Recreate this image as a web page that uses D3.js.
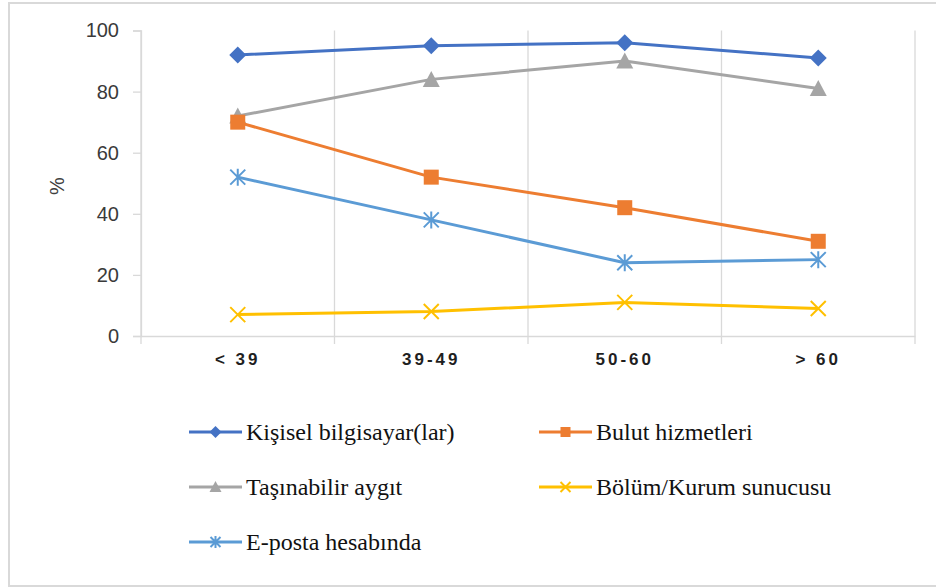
<!DOCTYPE html>
<html>
<head>
<meta charset="utf-8">
<script src="https://cdn.jsdelivr.net/npm/d3@7"></script>
<style>
  html, body { margin: 0; padding: 0; background: #fff; }
  svg { display: block; }
  .legend-label { font-family: "Liberation Serif", "Times New Roman", "DejaVu Serif", serif; font-size: 24px; }
</style>
</head>
<body>
<svg id="chart" width="936" height="588"></svg>
<script>
// Age groups along the x axis
const categories = ["< 39", "39-49", "50-60", "> 60"];

// Share (%) per age group for each storage location
const seriesNames = [
  "Kişisel bilgisayar(lar)",
  "Bulut hizmetleri",
  "Taşınabilir aygıt",
  "Bölüm/Kurum sunucusu",
  "E-posta hesabında"
];
const kisiselValues = [92, 95, 96, 91];
const bulutValues = [70, 52, 42, 31];
const tasinabilirValues = [72, 84, 90, 81];
const bolumValues = [7, 8, 11, 9];
const epostaValues = [52, 38, 24, 25];

const yTicks = [0, 20, 40, 60, 80, 100];

const colors = ["#4472C4", "#ED7D31", "#A5A5A5", "#FFC000", "#5B9BD5"];
const markers = ["diamond", "square", "triangle", "x", "asterisk"];

// Draw order: later series on top
const series = [
  { name: seriesNames[2], values: tasinabilirValues, color: colors[2], marker: markers[2] },
  { name: seriesNames[1], values: bulutValues, color: colors[1], marker: markers[1] },
  { name: seriesNames[0], values: kisiselValues, color: colors[0], marker: markers[0] },
  { name: seriesNames[4], values: epostaValues, color: colors[4], marker: markers[4] },
  { name: seriesNames[3], values: bolumValues, color: colors[3], marker: markers[3] }
];

const svg = d3.select("#chart");

// Chart frame
svg.append("rect")
  .attr("x", 9).attr("y", 3)
  .attr("width", 940).attr("height", 583)
  .attr("fill", "#fff")
  .attr("stroke", "#d9d9d9").attr("stroke-width", 2);

const plot = { left: 141, right: 915, top: 30.5, bottom: 336 };

const x = d3.scaleBand().domain(categories).range([plot.left, plot.right]).padding(0);
const y = d3.scaleLinear().domain([0, 100]).range([plot.bottom, plot.top]);

const gridColor = "#d9d9d9";

// Vertical gridlines at category boundaries (extend below the axis as tick marks)
const boundaries = categories.map(c => x(c)).concat([x.range()[1]]);
svg.append("g").selectAll("line").data(boundaries).join("line")
  .attr("x1", d => d).attr("x2", d => d)
  .attr("y1", plot.top).attr("y2", plot.bottom + 8)
  .attr("stroke", gridColor).attr("stroke-width", 1.3);

// Y axis with outward ticks
const yAxis = d3.axisLeft(y).tickValues(yTicks).tickSize(8).tickPadding(14);
const gy = svg.append("g").attr("transform", `translate(${plot.left},0)`).call(yAxis);
gy.select(".domain").attr("stroke", gridColor).attr("stroke-width", 1.3);
gy.selectAll(".tick line").attr("stroke", gridColor).attr("stroke-width", 1.3);
gy.selectAll(".tick text")
  .attr("fill", "#3a3a3a")
  .style("font-family", "'Liberation Sans', Arial, sans-serif")
  .style("font-size", "20px");

// X axis
const xAxis = d3.axisBottom(x).tickSize(0).tickPadding(17);
const gx = svg.append("g").attr("transform", `translate(0,${plot.bottom})`).call(xAxis);
gx.select(".domain").attr("stroke", gridColor).attr("stroke-width", 1.3);
gx.selectAll(".tick text")
  .attr("fill", "#1f1f1f")
  .style("font-family", "'Liberation Sans', Arial, sans-serif")
  .style("font-size", "17px")
  .style("font-weight", "bold")
  .style("letter-spacing", "3px");

// Y axis title
svg.append("text")
  .attr("transform", "translate(64,186) rotate(-90)")
  .attr("text-anchor", "middle")
  .attr("fill", "#404040")
  .style("font-family", "'Liberation Sans', Arial, sans-serif")
  .style("font-size", "20px")
  .text("%");

// Marker shapes
function drawMarker(g, type, color, size) {
  const s = size;
  if (type === "diamond") {
    g.append("path").attr("d", `M0,${-s/2}L${s/2},0L0,${s/2}L${-s/2},0Z`).attr("fill", color);
  } else if (type === "square") {
    g.append("rect").attr("x", -s/2 + 1).attr("y", -s/2 + 1).attr("width", s - 2).attr("height", s - 2).attr("fill", color);
  } else if (type === "triangle") {
    g.append("path").attr("d", `M0,${-s/2}L${s/2},${s/2 - 1}L${-s/2},${s/2 - 1}Z`).attr("fill", color);
  } else if (type === "x") {
    const h = s / 2 - 1;
    g.append("path").attr("d", `M${-h},${-h}L${h},${h}M${-h},${h}L${h},${-h}`)
      .attr("stroke", color).attr("stroke-width", 2).attr("fill", "none");
  } else if (type === "asterisk") {
    const h = s / 2 - 1;
    g.append("path").attr("d", `M${-h},${-h}L${h},${h}M${-h},${h}L${h},${-h}M0,${-h - 1}L0,${h + 1}`)
      .attr("stroke", color).attr("stroke-width", 2).attr("fill", "none");
  }
}

const line = d3.line()
  .x((d, i) => x(categories[i]) + x.bandwidth() / 2)
  .y(d => y(d));

series.forEach(s => {
  const g = svg.append("g");
  g.append("path")
    .datum(s.values)
    .attr("d", line)
    .attr("fill", "none")
    .attr("stroke", s.color)
    .attr("stroke-width", 3)
    .attr("stroke-linejoin", "round");
  s.values.forEach((v, i) => {
    const mg = g.append("g")
      .attr("transform", `translate(${x(categories[i]) + x.bandwidth() / 2},${y(v)})`);
    drawMarker(mg, s.marker, s.color, 17);
  });
});

// Legend: two columns, three rows
const legendItems = seriesNames.map((n, i) => ({ name: n, color: colors[i], marker: markers[i] }));
const colX = [189, 539];
const rowY = [432, 487, 542];
const legend = svg.append("g");
legendItems.forEach((it, i) => {
  const cx = colX[i % 2];
  const cy = rowY[Math.floor(i / 2)];
  const g = legend.append("g").attr("transform", `translate(${cx},${cy})`);
  g.append("line").attr("x1", 0).attr("x2", 53).attr("y1", 0).attr("y2", 0)
    .attr("stroke", it.color).attr("stroke-width", 3);
  const mg = g.append("g").attr("transform", "translate(26.5,0)");
  drawMarker(mg, it.marker, it.color, 12);
  g.append("text")
    .attr("class", "legend-label")
    .attr("x", 57).attr("y", 0).attr("dy", "0.33em")
    .attr("fill", "#111")
    .text(it.name);
});
</script>
</body>
</html>
